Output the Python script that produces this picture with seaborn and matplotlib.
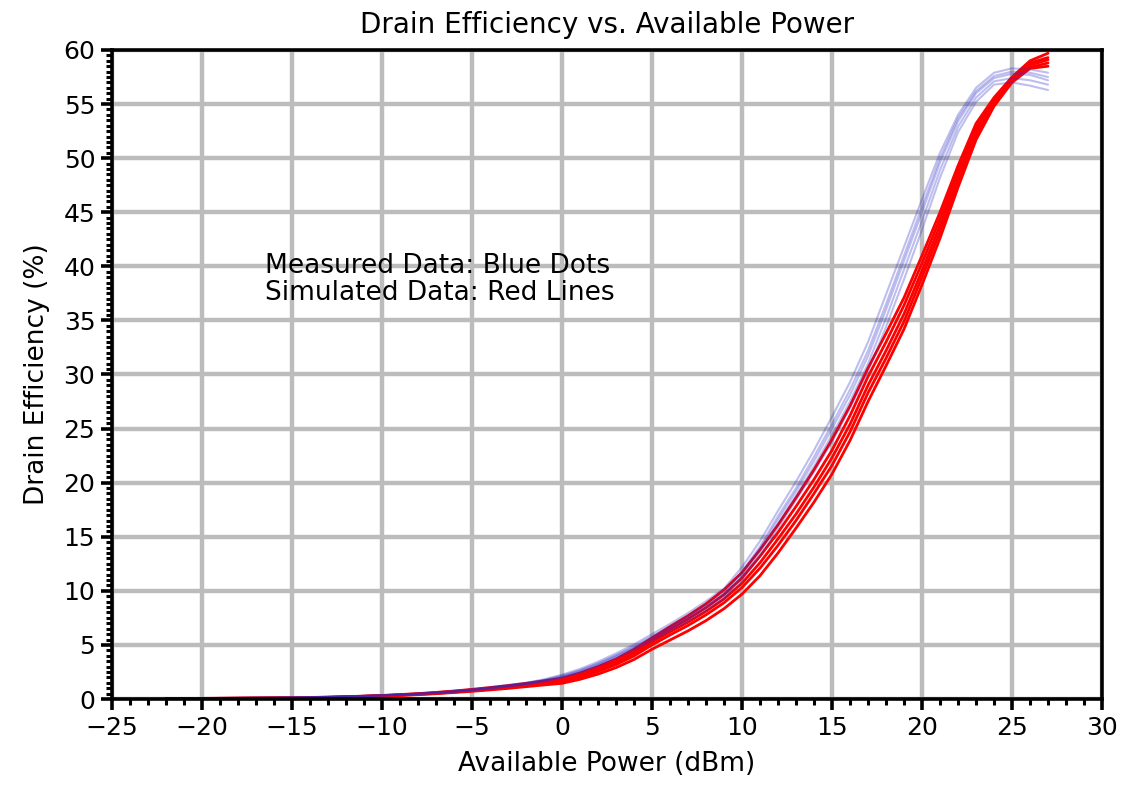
import matplotlib
matplotlib.use("Agg")
import matplotlib.pyplot as plt
import seaborn as sns
import numpy as np
import pandas as pd
from matplotlib.ticker import MultipleLocator

# ---------------- data ----------------
power = list(range(-22, 28))

blue_1 = [0.06,0.07,0.09,0.10,0.11,0.12,0.13,0.15,0.18,0.21,0.25,0.30,0.36,0.43,0.52,0.62,0.75,
          0.91,1.09,1.30,1.50,1.82,2.25,2.78,3.45,4.22,5.05,6.00,
          6.95,7.95,9.05,10.2,12.2,14.6,17.4,20.1,23.0,26.1,
          29.3,33.0,37.4,41.8,46.2,50.5,54.0,56.5,57.9,58.3,58.2,57.9]
blue_2 = [0.05,0.07,0.08,0.09,0.10,0.11,0.12,0.14,0.17,0.20,0.24,0.29,0.34,0.41,0.49,0.59,0.72,
          0.87,1.04,1.24,1.45,1.76,2.15,2.66,3.30,4.05,4.88,5.80,
          6.72,7.70,8.75,9.85,11.8,14.1,16.9,19.5,22.4,25.4,
          28.6,32.2,36.5,41.0,45.5,50.0,53.7,56.2,57.6,58.0,57.9,57.5]
blue_3 = [0.05,0.06,0.08,0.09,0.10,0.11,0.12,0.14,0.16,0.19,0.23,0.28,0.33,0.40,0.48,0.58,0.70,
          0.85,1.02,1.22,1.42,1.72,2.10,2.60,3.25,4.00,4.80,5.70,
          6.60,7.55,8.60,9.70,11.6,13.9,16.6,19.2,22.0,25.0,
          28.1,31.7,36.0,40.5,45.0,49.6,53.4,56.0,57.4,57.8,57.7,57.2]
blue_4 = [0.05,0.06,0.07,0.08,0.09,0.10,0.11,0.13,0.15,0.18,0.22,0.27,0.32,0.38,0.46,0.56,0.68,
          0.82,0.99,1.18,1.38,1.67,2.04,2.52,3.15,3.90,4.68,5.55,
          6.45,7.38,8.40,9.50,11.3,13.6,16.2,18.8,21.5,24.4,
          27.5,31.0,35.2,39.7,44.2,48.9,52.9,55.6,57.1,57.4,57.2,56.8]
blue_5 = [0.04,0.05,0.07,0.08,0.09,0.10,0.11,0.12,0.14,0.17,0.21,0.26,0.31,0.37,0.45,0.54,0.66,
          0.80,0.96,1.14,1.34,1.62,1.98,2.45,3.05,3.78,4.55,5.40,
          6.28,7.20,8.20,9.25,11.0,13.2,15.8,18.4,21.0,23.8,
          26.9,30.3,34.4,38.8,43.4,48.2,52.4,55.2,56.8,57.0,56.7,56.3]

red_1 = [0.04,0.05,0.06,0.07,0.08,0.09,0.10,0.12,0.14,0.17,0.21,0.27,0.33,0.41,0.50,0.61,0.74,
         0.89,1.06,1.24,1.45,1.68,1.92,2.40,3.00,3.70,4.60,5.65,
         6.70,7.70,8.80,10.1,11.7,13.8,16.1,18.6,21.2,24.0,
         27.1,30.6,33.8,37.1,41.0,45.0,49.3,53.2,55.6,57.5,59.0,59.7]
red_2 = [0.03,0.04,0.05,0.06,0.07,0.08,0.09,0.11,0.13,0.16,0.20,0.25,0.31,0.39,0.47,0.58,0.70,
         0.84,1.00,1.17,1.36,1.57,1.78,2.25,2.82,3.50,4.35,5.45,
         6.45,7.40,8.45,9.65,11.2,13.2,15.4,17.8,20.3,23.0,
         26.2,29.8,33.0,36.4,40.3,44.4,48.8,52.8,55.4,57.4,58.8,59.3]
red_3 = [0.03,0.04,0.05,0.06,0.07,0.08,0.09,0.10,0.12,0.15,0.19,0.24,0.30,0.37,0.45,0.55,0.67,
         0.80,0.95,1.11,1.29,1.48,1.68,2.12,2.68,3.34,4.18,5.25,
         6.20,7.10,8.10,9.25,10.7,12.6,14.8,17.1,19.6,22.3,
         25.4,29.0,32.2,35.6,39.6,43.8,48.3,52.5,55.2,57.3,58.6,59.1]
red_4 = [0.02,0.03,0.04,0.05,0.06,0.07,0.08,0.09,0.11,0.14,0.18,0.22,0.28,0.35,0.43,0.52,0.64,
         0.76,0.90,1.05,1.22,1.40,1.58,2.00,2.54,3.18,3.98,5.00,
         5.92,6.80,7.78,8.90,10.3,12.1,14.2,16.5,19.0,21.6,
         24.7,28.3,31.5,34.9,39.0,43.2,47.8,52.1,55.0,57.1,58.4,58.8]
red_5 = [0.02,0.03,0.03,0.04,0.05,0.06,0.07,0.08,0.10,0.12,0.16,0.20,0.25,0.32,0.40,0.49,0.60,
         0.71,0.84,0.98,1.14,1.30,1.45,1.82,2.30,2.90,3.65,4.60,
         5.45,6.30,7.25,8.35,9.70,11.4,13.5,15.8,18.2,20.8,
         23.9,27.5,30.8,34.2,38.3,42.6,47.3,51.7,54.8,57.0,58.3,58.5]

measured = [blue_1, blue_2, blue_3, blue_4, blue_5]
simulated = [red_1, red_2, red_3, red_4, red_5]

x_ticks = [-25, -20, -15, -10, -5, 0, 5, 10, 15, 20, 25, 30]
y_ticks = [0, 5, 10, 15, 20, 25, 30, 35, 40, 45, 50, 55, 60]

title = "Drain Efficiency vs. Available Power"
x_label = "Available Power (dBm)"
y_label = "Drain Efficiency (%)"
note_1 = "Measured Data: Blue Dots"
note_2 = "Simulated Data: Red Lines"

# ---------------- plot ----------------
sns.set_theme(style="white")
plt.rcParams['font.family'] = ['DejaVu Sans']
plt.rcParams['axes.unicode_minus'] = True

fig = plt.figure(figsize=(11.22, 7.91), dpi=100)
ax = fig.add_axes([0.0998, 0.1163, 0.8824, 0.8205])

rows = []
for i, s in enumerate(measured):
    for xv, yv in zip(power, s):
        rows.append(("measured", i, xv, yv))
for i, s in enumerate(simulated):
    for xv, yv in zip(power, s):
        rows.append(("simulated", i, xv, yv))
df = pd.DataFrame(rows, columns=["kind", "run", "power", "eff"])

sns.lineplot(data=df[df.kind == "simulated"], x="power", y="eff", units="run",
             estimator=None, color="#ff0000", lw=2.0, ax=ax, zorder=3)
sns.lineplot(data=df[df.kind == "measured"], x="power", y="eff", units="run",
             estimator=None, color="#2a2ac8", alpha=0.3, lw=1.5, ax=ax, zorder=4)

ax.set_xlim(-25, 30)
ax.set_ylim(0, 60)
ax.set_xticks(x_ticks)
ax.set_yticks(y_ticks)
ax.xaxis.set_minor_locator(MultipleLocator(1))
ax.yaxis.set_minor_locator(MultipleLocator(0.5))

ax.grid(True, which="major", color="#bcbcbc", lw=3.2, zorder=0)
ax.set_axisbelow(True)

for sp in ax.spines.values():
    sp.set_visible(True)
    sp.set_color("black")
    sp.set_linewidth(2.6)
    sp.set_zorder(5)

ax.tick_params(axis="both", which="major", direction="out", length=8, width=2.6,
               color="black", labelsize=18, labelcolor="black", pad=4,
               bottom=True, left=True, top=False, right=False)
ax.tick_params(axis="both", which="minor", direction="out", length=4, width=2.2,
               color="black", bottom=True, left=True, top=False, right=False)

ax.set_xlabel(x_label, fontsize=19, color="black", labelpad=8)
ax.set_ylabel(y_label, fontsize=19, color="black", labelpad=10)
ax.set_title(title, fontsize=20, color="black", pad=12)

ax.text(-16.5, 40.0, note_1, fontsize=19, color="black", va="center", ha="left", zorder=6)
ax.text(-16.5, 37.5, note_2, fontsize=19, color="black", va="center", ha="left", zorder=6)

fig.savefig("out.png", dpi=100)
